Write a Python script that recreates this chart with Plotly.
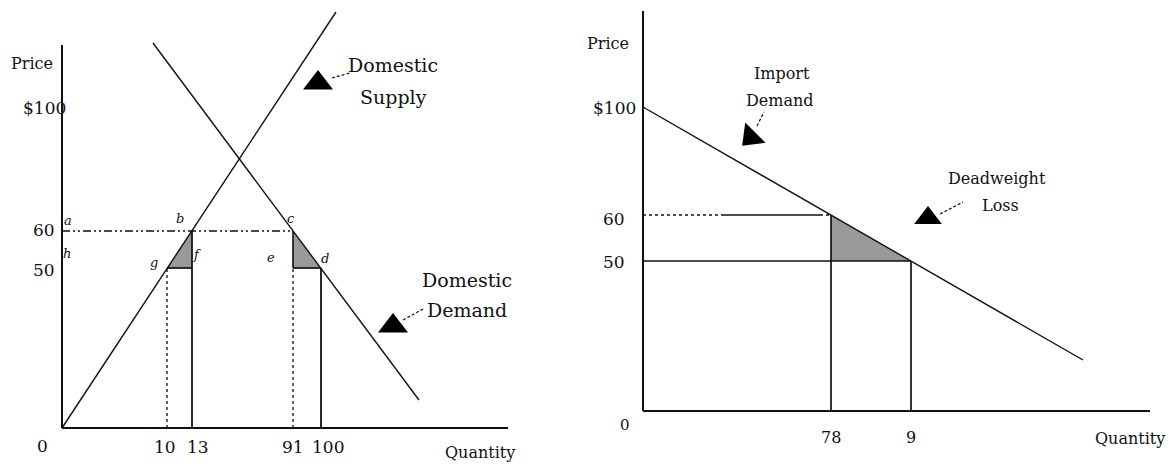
"""Tariff diagram: domestic market (left) and import market (right)."""
import plotly.graph_objects as go

INK = "#111111"
SHADE = "#999999"
SERIF = "DejaVu Serif"

# ---- left panel: domestic market (diagram units, origin at axis corner) ----
supply_q = [0, 274]
supply_p = [0, 416]
demand_q = [91, 357]
demand_p = [385, 28]
p_levels_left = [197, 160]            # $60 (with tariff), $50 (world)
q_marks_left = [105, 130, 231, 259]   # where the price lines meet the curves
q_labels_left = ["10", "13", "91", "100"]
price_labels_left = ["$100", "60", "50"]
price_label_y_left = [320, 198, 158]
point_letters = ["a", "h", "b", "g", "f", "c", "e", "d"]
point_letter_xy = [(6, 208), (5, 175), (118, 210), (92, 166),
                   (135, 174), (229, 210), (209, 171), (263, 170)]

# ---- right panel: import market ----
import_q = [0, 440]
import_p = [304, 51]
p_levels_right = [196, 150]
q_marks_right = [188, 268]
q_labels_right = ["78", "9"]
price_labels_right = ["$100", "60", "50"]
price_label_y_right = [303, 192, 149]


def line(fig, xs, ys, panel, width=1.4, dash="solid", color=INK):
    fig.add_trace(go.Scatter(
        x=xs, y=ys, mode="lines", xaxis="x" if panel == 1 else "x2",
        yaxis="y" if panel == 1 else "y2",
        line=dict(color=color, width=width, dash=dash), hoverinfo="skip",
    ))


def shade(fig, xs, ys, panel):
    fig.add_trace(go.Scatter(
        x=xs, y=ys, mode="lines", fill="toself", fillcolor=SHADE,
        line=dict(width=0, color=SHADE),
        xaxis="x" if panel == 1 else "x2", yaxis="y" if panel == 1 else "y2",
        hoverinfo="skip",
    ))


def pointer(fig, xy, panel, angle=0, size=26):
    fig.add_trace(go.Scatter(
        x=[xy[0]], y=[xy[1]], mode="markers",
        xaxis="x" if panel == 1 else "x2", yaxis="y" if panel == 1 else "y2",
        marker=dict(symbol="triangle-up", size=size, color="black", angle=angle),
        hoverinfo="skip",
    ))


def text(fig, s, xy, panel, size=16, italic=False):
    fig.add_annotation(
        x=xy[0], y=xy[1], text=f"<i>{s}</i>" if italic else s,
        xref="x" if panel == 1 else "x2", yref="y" if panel == 1 else "y2",
        showarrow=False, font=dict(family=SERIF, size=size, color=INK),
    )


fig = go.Figure()

# page edge guide
line(fig, [-55, -55], [-36, 428], 1, width=1, dash="dot", color="#c8c8c8")

# ---- left panel ----
p60, p50 = p_levels_left
q10, q13, q91, q100 = q_marks_left
shade(fig, [q10, q13, q13, q10], [p50, p50, p60, p50], 1)
shade(fig, [q91, q91, q100, q91], [p60, p50, p50, p60], 1)
line(fig, [0, 0], [0, 383], 1, width=2)
line(fig, [0, 446], [0, 0], 1, width=2)
line(fig, supply_q, supply_p, 1)
line(fig, demand_q, demand_p, 1)
line(fig, [0, q91], [p60, p60], 1, width=1.4, dash="8px,3px,2px,3px,2px,3px")
line(fig, [q10, q13], [p50, p50], 1, width=1.7)
line(fig, [q91, q100], [p50, p50], 1, width=1.7)
line(fig, [q10, q10], [0, p50], 1, width=1.3, dash="dot")
line(fig, [q13, q13], [0, p60], 1, width=1.8)
line(fig, [q91, q91], [0, p50], 1, width=1.3, dash="dot")
line(fig, [q91, q91], [p50, p60], 1, width=1.6)
line(fig, [q100, q100], [0, p50], 1, width=1.8)

text(fig, "Price", (-30, 365), 1, size=16)
for lab, y in zip(price_labels_left, price_label_y_left):
    text(fig, lab, (-18, y), 1, size=17)
text(fig, "0", (-20, -18), 1, size=17)
for lab, q, dx in zip(q_labels_left, q_marks_left, [-2, 6, 0, 7]):
    text(fig, lab, (q + dx, -19), 1, size=17)
text(fig, "Quantity", (418, -24), 1, size=16)
for lab, xy in zip(point_letters, point_letter_xy):
    text(fig, lab, xy, 1, size=13, italic=True)

pointer(fig, (256, 345), 1)
line(fig, [270, 288], [350, 355], 1, width=1.2, dash="3px,2px")
text(fig, "Domestic", (331, 363), 1, size=19)
text(fig, "Supply", (331, 331), 1, size=19)

pointer(fig, (331, 102), 1)
line(fig, [341, 361], [108, 119], 1, width=1.2, dash="3px,2px")
text(fig, "Domestic", (405, 148), 1, size=19)
text(fig, "Demand", (405, 118), 1, size=19)

# ---- right panel ----
r60, r50 = p_levels_right
q78, q9 = q_marks_right
shade(fig, [q78, q78, q9, q78], [r60, r50, r50, r60], 2)
line(fig, [0, 0], [0, 400], 2, width=2)
line(fig, [0, 507], [0, 0], 2, width=2)
line(fig, import_q, import_p, 2)
line(fig, [0, 79], [r60, r60], 2, width=1.3, dash="dot")
line(fig, [79, 177], [r60, r60], 2, width=1.7)
line(fig, [177, q78], [r60, r60], 2, width=1.3, dash="dot")
line(fig, [0, q9], [r50, r50], 2, width=1.7)
line(fig, [q78, q78], [0, r60], 2, width=1.7)
line(fig, [q9, q9], [0, r50], 2, width=1.7)

text(fig, "Price", (-35, 368), 2, size=16)
for lab, y in zip(price_labels_right, price_label_y_right):
    text(fig, lab, (-29, y), 2, size=17)
text(fig, "0", (-18, -14), 2, size=15)
for lab, q in zip(q_labels_right, q_marks_right):
    text(fig, lab, (q, -26), 2, size=16)
text(fig, "Quantity", (487, -27), 2, size=16)

pointer(fig, (108, 274), 2, angle=225, size=25)
line(fig, [114, 121], [285, 299], 2, width=1.2, dash="3px,2px")
text(fig, "Import", (139, 338), 2, size=16)
text(fig, "Demand", (137, 311), 2, size=16)

pointer(fig, (285, 193), 2, size=24)
line(fig, [297, 320], [197, 209], 2, width=1.2, dash="3px,2px")
text(fig, "Deadweight", (354, 233), 2, size=16)
text(fig, "Loss", (357, 206), 2, size=16)

# the page body adds an 8px margin, so the figure is 8px smaller than the
# window and every origin is moved up/left by the same amount
fig.update_layout(
    width=1167, height=456,
    margin=dict(l=0, r=0, t=0, b=0),
    paper_bgcolor="white", plot_bgcolor="white",
    showlegend=False, hovermode=False,
    xaxis=dict(domain=[0, 0.5], range=[-54, 529.5], visible=False),
    yaxis=dict(domain=[0, 1], range=[-36, 420], visible=False),
    xaxis2=dict(domain=[0.5, 1], range=[-51.5, 532], visible=False, anchor="y2"),
    yaxis2=dict(domain=[0, 1], range=[-53, 403], visible=False, anchor="x2"),
)

fig.write_html("out.html")
